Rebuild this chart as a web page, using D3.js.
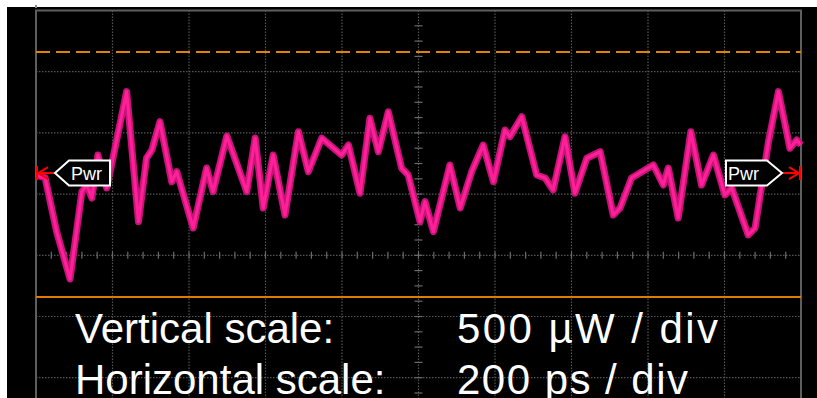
<!DOCTYPE html>
<html>
<head>
<meta charset="utf-8">
<script src="https://cdn.jsdelivr.net/npm/d3@7"></script>
<style>
  body { margin: 0; background: #ffffff; }
  svg { display: block; }
</style>
</head>
<body>
<script>
// page size
var width = 817;
var height = 398;

// trace samples: time in ps, power in uW (0 = screen centre)
var timePs = [0, 24, 54, 89, 120, 133, 146, 162, 185, 237, 268, 289, 303, 324, 355, 368, 411, 446, 463, 499,
              551, 573, 594, 620, 651, 686, 712, 747, 799, 817, 847, 873, 895, 921, 956, 973, 1004, 1017, 1039, 1082,
              1109, 1139, 1169, 1196, 1226, 1239, 1270, 1309, 1331, 1352, 1383, 1409, 1440, 1475, 1509, 1527, 1557, 1592, 1614, 1640,
              1653, 1679, 1712, 1740, 1771, 1801, 1819, 1862, 1880, 1915, 1941, 1971, 1989, 2000];
var powerUw = [656, 632, 193, -194, 520, 574, 468, 819, 550, 1337, 275, 795, 860, 1092, 601, 683, 223, 713, 520, 975,
               520, 958, 386, 819, 329, 1010, 683, 958, 819, 901, 507, 1119, 846, 1173, 711, 656, 275, 438, 193, 738,
               386, 683, 901, 601, 1024, 969, 1132, 656, 632, 534, 969, 507, 793, 846, 329, 386, 632, 697, 738, 574,
               713, 305, 1010, 574, 819, 493, 550, 166, 223, 928, 1337, 874, 942, 901];

// levels (uW)
var pwrRefLevel = 672;      // "Pwr" channel markers
var upperLevel = 1661;      // dashed orange line
var lowerLevel = -341;      // solid orange line

// screen divisions
var timeDomain = [0, 2000];       // 10 div x 200 ps
var powerDomain = [-2000, 2000];  // 8 div x 500 uW

// caption
var captionLabels = ["Vertical scale:", "Horizontal scale:"];
var captionValues = ["500 \u00b5W / div", "200 ps / div"];
var markerLabel = "Pwr";

var svg = d3.select("body")
            .append("svg")
            .attr("width", width)
            .attr("height", height);

// black scope screen
svg.append("rect")
   .attr("x", 7)
   .attr("y", 7)
   .attr("width", width - 7)
   .attr("height", height - 7)
   .attr("fill", "#000000");

var x = d3.scaleLinear().domain(timeDomain).range([36, 801]);
var y = d3.scaleLinear().domain(powerDomain).range([500.1, 10.5]);

// dotted graticule
var grid = svg.append("g").attr("class", "grid");

grid.selectAll("line.v")
    .data(d3.range(timeDomain[0] + 200, timeDomain[1], 200))
    .enter().append("line")
    .attr("class", "v")
    .attr("x1", function(d) { return x(d); })
    .attr("x2", function(d) { return x(d); })
    .attr("y1", y(powerDomain[1]))
    .attr("y2", height)
    .attr("stroke", "#555555")
    .attr("stroke-width", 1.2)
    .attr("stroke-dasharray", "1.5,1.5");

grid.selectAll("line.h")
    .data(d3.range(powerDomain[0] + 500, powerDomain[1], 500))
    .enter().append("line")
    .attr("class", "h")
    .attr("x1", x(timeDomain[0]))
    .attr("x2", x(timeDomain[1]))
    .attr("y1", function(d) { return y(d); })
    .attr("y2", function(d) { return y(d); })
    .attr("stroke", "#555555")
    .attr("stroke-width", 1.2)
    .attr("stroke-dasharray", "1.5,1.5");

// minor ticks on the centre cross
grid.selectAll("line.tx")
    .data(d3.range(timeDomain[0] + 40, timeDomain[1], 40))
    .enter().append("line")
    .attr("class", "tx")
    .attr("x1", function(d) { return x(d); })
    .attr("x2", function(d) { return x(d); })
    .attr("y1", y(0) - 3.5)
    .attr("y2", y(0) + 3.5)
    .attr("stroke", "#6a6a6a")
    .attr("stroke-width", 1.2);

grid.selectAll("line.ty")
    .data(d3.range(powerDomain[0] + 125, powerDomain[1], 125))
    .enter().append("line")
    .attr("class", "ty")
    .attr("x1", x(1000) - 4)
    .attr("x2", x(1000) + 4)
    .attr("y1", function(d) { return y(d); })
    .attr("y2", function(d) { return y(d); })
    .attr("stroke", "#6a6a6a")
    .attr("stroke-width", 1.2);

// frame
svg.append("path")
   .attr("d", "M" + x(0) + "," + height + "V" + y(2000) + "H" + x(2000) + "V" + height)
   .attr("fill", "none")
   .attr("stroke", "#5e5e5e")
   .attr("stroke-width", 2);

// small trigger mark above the frame
svg.append("rect")
   .attr("x", x(0) - 1)
   .attr("y", 5)
   .attr("width", 2)
   .attr("height", 3)
   .attr("fill", "#888888");

// orange level lines
svg.append("line")
   .attr("x1", x(0)).attr("x2", x(2000))
   .attr("y1", y(upperLevel)).attr("y2", y(upperLevel))
   .attr("stroke", "#e08400")
   .attr("stroke-width", 2)
   .attr("stroke-dasharray", "14,6");

svg.append("line")
   .attr("x1", x(0)).attr("x2", x(2000))
   .attr("y1", y(lowerLevel)).attr("y2", y(lowerLevel))
   .attr("stroke", "#e07a00")
   .attr("stroke-width", 2);

// trace: darker noise band with a bright core
var traceData = timePs.map(function(t, i) { return [t, powerUw[i]]; });
var line = d3.line()
             .x(function(d) { return x(d[0]); })
             .y(function(d) { return y(d[1]); });

svg.append("path")
   .datum(traceData)
   .attr("d", line)
   .attr("fill", "none")
   .attr("stroke", "#c7137a")
   .attr("stroke-width", 7)
   .attr("stroke-linejoin", "round");

svg.append("path")
   .datum(traceData)
   .attr("d", line)
   .attr("fill", "none")
   .attr("stroke", "#ff1f96")
   .attr("stroke-width", 3.2)
   .attr("stroke-linejoin", "round");

// channel markers
var my = y(pwrRefLevel);
var markers = svg.append("g").attr("class", "markers");

// left red arrow
markers.append("path")
       .attr("d", "M" + (x(0) + 1) + "," + (my - 7) + "V" + (my + 7) +
                  "M" + x(0) + "," + my + "H" + (x(0) + 19) +
                  "M" + (x(0) + 2) + "," + my + "L" + (x(0) + 12) + "," + (my - 6) +
                  "M" + (x(0) + 2) + "," + my + "L" + (x(0) + 12) + "," + (my + 6))
       .attr("fill", "none")
       .attr("stroke", "#ff0000")
       .attr("stroke-width", 2);

// right red arrow
markers.append("path")
       .attr("d", "M" + (x(2000) - 1) + "," + (my - 7) + "V" + (my + 7) +
                  "M" + x(2000) + "," + my + "H" + (x(2000) - 19) +
                  "M" + (x(2000) - 2) + "," + my + "L" + (x(2000) - 12) + "," + (my - 6) +
                  "M" + (x(2000) - 2) + "," + my + "L" + (x(2000) - 12) + "," + (my + 6))
       .attr("fill", "none")
       .attr("stroke", "#ff0000")
       .attr("stroke-width", 2);

// label boxes
var lx = x(0) + 19;
markers.append("path")
       .attr("d", "M" + lx + "," + my + "L" + (lx + 14) + "," + (my - 12.5) + "H" + (lx + 55) +
                  "V" + (my + 12.5) + "H" + (lx + 14) + "Z")
       .attr("fill", "#000000")
       .attr("stroke", "#ffffff")
       .attr("stroke-width", 2);

var rx = x(2000) - 19;
markers.append("path")
       .attr("d", "M" + rx + "," + my + "L" + (rx - 15) + "," + (my - 12.5) + "H" + (rx - 56) +
                  "V" + (my + 12.5) + "H" + (rx - 15) + "Z")
       .attr("fill", "#000000")
       .attr("stroke", "#ffffff")
       .attr("stroke-width", 2);

markers.append("text")
       .attr("x", lx + 16)
       .attr("y", my + 6.5)
       .attr("font-family", "Liberation Sans, Arial, sans-serif")
       .attr("font-size", 18)
       .attr("fill", "#ffffff")
       .text(markerLabel);

markers.append("text")
       .attr("x", rx - 54)
       .attr("y", my + 6.5)
       .attr("font-family", "Liberation Sans, Arial, sans-serif")
       .attr("font-size", 18)
       .attr("fill", "#ffffff")
       .text(markerLabel);

// caption text
var caption = svg.append("g")
                 .attr("font-family", "Liberation Sans, Arial, sans-serif")
                 .attr("font-size", 42)
                 .attr("fill", "#ffffff");

caption.selectAll("text.lab")
       .data(captionLabels)
       .enter().append("text")
       .attr("class", "lab")
       .attr("x", 75)
       .attr("y", function(d, i) { return 343 + i * 51; })
       .text(function(d) { return d; });

// value column is set a little wider in the original
var valueWidths = [261, 231];
caption.selectAll("text.val")
       .data(captionValues)
       .enter().append("text")
       .attr("class", "val")
       .attr("x", 457)
       .attr("y", function(d, i) { return 343 + i * 51; })
       .attr("textLength", function(d, i) { return valueWidths[i]; })
       .attr("lengthAdjust", "spacing")
       .text(function(d) { return d; });
</script>
</body>
</html>
